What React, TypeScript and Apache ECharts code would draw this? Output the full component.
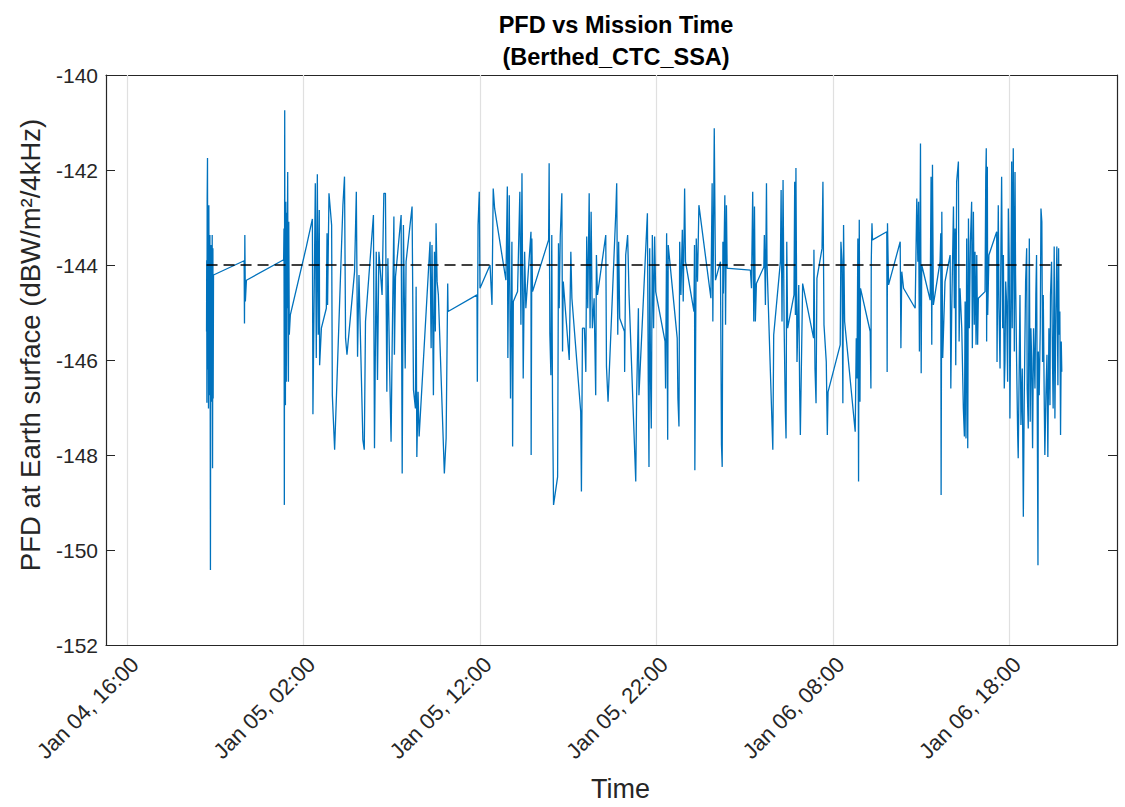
import React, { useEffect, useRef } from "react";
import * as echarts from "echarts";

// Time in hours since Jan 04 00:00, PFD in dBW/m^2/4kHz
const SEG1: [number, number][] = [[20.50,-145.40],[20.51,-143.90],[20.52,-146.90],[20.535,-142.60],[20.554,-141.75],[20.57,-146.20],[20.585,-143.10],[20.61,-147.02],[20.63,-142.74],[20.65,-145.80],[20.67,-146.74],[20.69,-143.37],[20.705,-146.30],[20.72,-150.42],[20.74,-144.60],[20.76,-143.58],[20.78,-146.10],[20.79,-143.80],[20.80,-146.88],[20.82,-143.37],[20.84,-148.28],[20.86,-143.65],[20.875,-146.81],[20.894,-144.21],[22.63,-143.91],[22.65,-145.23],[22.67,-143.37],[22.70,-144.77],[22.76,-144.32],[24.87,-143.89],[24.89,-143.23],[24.91,-149.05],[24.93,-140.74],[24.95,-145.90],[24.97,-146.95],[24.99,-142.67],[25.00,-143.50],[25.02,-146.46],[25.04,-142.90],[25.06,-144.91],[25.08,-143.30],[25.10,-142.04],[25.12,-145.70],[25.14,-146.46],[25.16,-143.09],[25.19,-145.47],[25.25,-145.05]];
const SEG2: [number, number][] = [[26.16,-143.61],[26.50,-143.03],[26.53,-147.14],[26.665,-142.28],[26.72,-145.96],[26.78,-142.09],[26.83,-145.47],[26.89,-142.84],[26.91,-146.11],[27.01,-145.33],[27.29,-144.91],[27.33,-143.33],[27.36,-144.84],[27.44,-142.49],[27.59,-143.16],[27.63,-146.74],[27.76,-147.89],[28.23,-142.74],[28.32,-142.14],[28.38,-145.54],[28.46,-145.89],[28.89,-144.14],[28.99,-142.46],[29.06,-145.93],[29.14,-144.21],[29.36,-147.68],[29.44,-147.89],[29.51,-145.19],[29.96,-142.95],[30.02,-147.86],[30.12,-143.72],[30.19,-146.42],[30.27,-143.72],[30.45,-144.63],[30.55,-142.49],[30.64,-142.49],[30.72,-146.67],[30.78,-143.86],[30.87,-146.04],[30.96,-147.72],[31.02,-145.75],[31.12,-142.98],[31.15,-145.89],[31.21,-144.25],[31.53,-142.95],[31.59,-148.39],[31.66,-143.16],[31.76,-146.18],[31.81,-143.93],[32.15,-142.77],[32.23,-146.63],[32.34,-147.02]];
const SEG3: [number, number][] = [[32.38,-144.46],[32.42,-148.04],[32.49,-146.67],[32.55,-147.61],[33.17,-143.51],[33.23,-145.75],[33.28,-143.58],[33.36,-146.74],[33.42,-143.72],[33.47,-145.40],[33.51,-143.12],[33.57,-144.35],[33.64,-144.63],[33.98,-148.39],[34.08,-147.65],[34.17,-144.39],[34.19,-144.98],[35.83,-144.63],[35.85,-146.46],[35.89,-143.16],[35.96,-142.46],[36.00,-144.49],[36.57,-144.00],[36.68,-144.84],[36.75,-142.39],[36.83,-142.81],[37.47,-144.32],[37.55,-142.35],[37.58,-145.96],[37.66,-142.53],[37.73,-146.81],[37.81,-143.51],[37.85,-147.82],[37.89,-144.77],[38.13,-144.56],[38.26,-142.46],[38.32,-145.26],[38.38,-142.07],[38.45,-146.39],[38.53,-143.72],[38.60,-144.91]];
const SEG4: [number, number][] = [[38.89,-143.30],[38.90,-148.00],[38.94,-143.44],[38.98,-144.56],[39.89,-143.47],[39.92,-141.86],[39.96,-145.44],[40.02,-146.32],[40.07,-143.37],[40.11,-146.81],[40.17,-149.05],[40.40,-148.46],[40.45,-143.54],[40.49,-144.91],[40.55,-143.40],[40.64,-142.49],[40.68,-145.82],[40.72,-144.35],[41.06,-146.00],[41.15,-143.72],[41.21,-144.70],[41.71,-147.09],[41.75,-148.77],[41.81,-145.33],[41.92,-145.33],[42.00,-146.25],[42.05,-143.40],[42.11,-144.91],[42.19,-142.49],[42.24,-145.33],[42.30,-142.88],[42.37,-145.33],[42.47,-144.70],[42.56,-146.74],[42.60,-143.79],[42.66,-144.63],[43.13,-143.37],[43.17,-146.14],[43.26,-146.88],[43.70,-142.88],[43.75,-142.28],[43.81,-145.47],[43.86,-143.51],[43.92,-145.12],[44.19,-145.40],[44.20,-146.25],[44.26,-143.79],[44.37,-143.37],[44.45,-144.63],[44.83,-148.56]];
const SEG5: [number, number][] = [[44.88,-146.74],[44.98,-144.91],[45.01,-146.74],[45.49,-142.91],[45.54,-146.46],[45.58,-148.25],[45.62,-143.65],[45.67,-146.46],[45.71,-147.44],[45.77,-143.37],[45.84,-145.33],[45.90,-143.40],[45.96,-144.56],[46.49,-145.61],[46.52,-146.60],[46.58,-143.33],[46.64,-147.68],[46.67,-143.58],[47.18,-145.54],[47.22,-146.81],[47.28,-147.40],[47.32,-143.51],[47.39,-144.63],[47.47,-143.26],[47.52,-144.77],[47.60,-142.39],[47.65,-143.93],[48.13,-144.98],[48.16,-143.58],[48.18,-148.32],[48.26,-143.44],[48.33,-144.35],[48.41,-142.74],[49.09,-144.70],[49.16,-142.28],[49.20,-145.19],[49.28,-141.12],[49.35,-144.32],[49.63,-143.93],[49.69,-147.79],[49.73,-148.25],[49.77,-143.51],[49.80,-144.60],[49.88,-142.53],[49.92,-145.26],[49.97,-142.74],[50.01,-144.07],[50.11,-144.07]];
const SEG6: [number, number][] = [[51.33,-144.11],[51.39,-144.49],[51.46,-142.46],[51.52,-145.19],[51.56,-142.77],[51.61,-145.19],[51.67,-144.39],[52.09,-144.04],[52.12,-143.37],[52.18,-144.84],[52.24,-142.28],[52.27,-143.96],[52.60,-147.89],[52.65,-145.47],[53.03,-143.93],[53.07,-142.42],[53.12,-145.19],[53.18,-142.21],[53.24,-145.26],[53.31,-147.09],[53.35,-147.65],[53.39,-143.51],[53.44,-145.33],[53.80,-144.63],[53.84,-142.25],[53.88,-145.05],[53.91,-141.96],[53.97,-146.04],[54.07,-144.42],[54.12,-146.60],[54.16,-147.58],[54.29,-144.39],[54.91,-145.54],[54.93,-143.68],[54.99,-146.18],[55.05,-146.91],[55.10,-144.28],[55.39,-143.65],[55.44,-142.25],[55.50,-145.26],[55.63,-146.04],[55.69,-147.58],[55.73,-146.67],[56.42,-145.68],[56.46,-143.51],[56.52,-143.93],[56.57,-146.91],[56.61,-143.16],[56.67,-145.19],[57.27,-147.51]];
const SEG7: [number, number][] = [[57.33,-145.54],[57.37,-146.39],[57.42,-143.44],[57.46,-148.56],[57.50,-143.05],[57.54,-146.88],[57.57,-144.49],[58.12,-145.40],[58.16,-146.60],[58.18,-143.93],[58.22,-143.12],[58.25,-143.47],[59.06,-143.30],[59.08,-146.25],[59.10,-143.12],[59.16,-144.42],[59.82,-143.51],[59.86,-145.75],[59.91,-144.14],[60.01,-144.49],[60.67,-144.91],[60.76,-142.60],[60.82,-143.93],[60.86,-142.67],[60.91,-145.82],[60.97,-141.44],[61.01,-146.28],[61.04,-144.00],[61.52,-144.74],[61.57,-142.14],[61.61,-145.68],[61.65,-141.89],[61.70,-144.84],[62.08,-143.93],[62.12,-143.33],[62.14,-148.84],[62.18,-142.88],[62.23,-145.96],[62.36,-144.35],[62.65,-143.79],[62.69,-146.60],[62.74,-144.98],[62.84,-142.77],[62.89,-144.91],[62.93,-143.23],[62.97,-146.11],[63.02,-142.25],[63.12,-141.82],[63.16,-145.61],[63.21,-144.49],[63.31,-145.33],[63.40,-147.02],[63.46,-147.61],[63.50,-144.77]];
const SEG8: [number, number][] = [[63.55,-147.65],[63.59,-143.44],[63.65,-147.86],[63.69,-143.02],[63.74,-145.33],[63.80,-143.51],[63.87,-142.67],[63.91,-145.75],[63.97,-142.88],[64.02,-145.26],[64.06,-143.72],[64.12,-145.68],[64.16,-143.79],[64.21,-145.68],[64.25,-144.70],[64.63,-144.56],[64.67,-142.14],[64.70,-141.54],[64.72,-145.61],[64.76,-141.93],[64.78,-145.05],[64.85,-143.79],[65.29,-143.30],[65.31,-146.04],[65.38,-142.74],[65.42,-144.91],[65.48,-146.18],[65.53,-143.65],[65.57,-142.14],[65.63,-145.33],[65.67,-143.79],[65.72,-146.60],[65.76,-146.04],[65.80,-144.35],[65.85,-144.77],[65.91,-146.46],[65.95,-142.81],[66.00,-143.93],[66.04,-147.23],[66.10,-144.35],[66.14,-141.82],[66.17,-145.33],[66.23,-141.54],[66.29,-145.82],[66.33,-142.04],[66.36,-144.21],[66.42,-146.04],[66.48,-147.58],[66.51,-148.07],[66.57,-146.04],[66.61,-144.63],[66.665,-147.37],[66.74,-146.18],[66.80,-149.30],[66.85,-146.88],[66.93,-144.35],[66.99,-143.65],[67.02,-146.60],[67.08,-147.44],[67.14,-143.44],[67.19,-147.30],[67.23,-145.33],[67.27,-145.96],[67.325,-147.86],[67.38,-145.33],[67.46,-146.60],[67.51,-144.63],[67.55,-143.79],[67.59,-147.09],[67.63,-150.32],[67.65,-145.82],[67.70,-146.74],[67.76,-145.33],[67.80,-142.81],[67.85,-143.09],[67.89,-146.04],[67.93,-144.63],[67.99,-147.02],[68.02,-148.00],[68.08,-146.74],[68.14,-145.89],[68.19,-148.04],[68.25,-145.33],[68.31,-146.95],[68.34,-144.63],[68.40,-143.93],[68.46,-146.18],[68.49,-147.02],[68.55,-143.61],[68.59,-147.23],[68.645,-145.05],[68.70,-143.61],[68.76,-146.53],[68.80,-143.65],[68.83,-145.47],[68.87,-144.98],[68.91,-147.58],[68.95,-145.61],[68.98,-146.25]];

const THRESHOLD = -144;
const X_TICKS = [16, 26, 36, 46, 56, 66];
const X_MIN = 14.8;
const X_MAX = 72.11;
const Y_MIN = -152;
const Y_MAX = -140;
const Y_STEP = 2;

const FONT = "'Liberation Sans', Arial, Helvetica, sans-serif";
const AX = "#262626";

function fmtTime(h: number): string {
  const dayIdx = Math.floor((h + 1e-6) / 24);
  const hh = Math.round(h - dayIdx * 24);
  const day = 4 + dayIdx;
  return `Jan ${String(day).padStart(2, "0")}, ${String(hh).padStart(2, "0")}:00`;
}

export default function App() {
  const ref = useRef<HTMLDivElement>(null);
  useEffect(() => {
    if (!ref.current) return;
    const chart = echarts.init(ref.current, undefined, { renderer: "svg" });
    const data = [...SEG1, ...SEG2, ...SEG3, ...SEG4, ...SEG5, ...SEG6, ...SEG7, ...SEG8];
    const tStart = data[0][0];
    const tEnd = data[data.length - 1][0];
    const axisLine = { show: true, onZero: false, lineStyle: { color: AX, width: 1.2 } };
    const tick = { show: true, inside: true, length: 9, lineStyle: { color: AX, width: 1 } };
    chart.setOption({
      animation: false,
      backgroundColor: "#ffffff",
      textStyle: { fontFamily: FONT },
      title: {
        text: "PFD vs Mission Time\n(Berthed_CTC_SSA)",
        left: 611,
        top: 4,
        textAlign: "center",
        textStyle: { fontSize: 23.5, fontWeight: "bold", color: "#000", lineHeight: 32, fontFamily: FONT },
      },
      grid: { left: 106, right: 8, top: 75, bottom: 162, containLabel: false },
      xAxis: [
        {
          type: "value",
          min: X_MIN,
          max: X_MAX,
          position: "bottom",
          axisLine,
          axisTick: { ...tick, customValues: X_TICKS },
          axisLabel: {
            customValues: X_TICKS,
            rotate: 45,
            align: "right",
            verticalAlign: "top",
            formatter: (v: number) => fmtTime(v),
            fontSize: 22,
            color: AX,
            fontFamily: FONT,
            margin: 8,
          },
          splitLine: { show: false },
          name: "Time",
          nameLocation: "middle",
          nameGap: 130,
          nameTextStyle: { fontSize: 27, color: AX, fontFamily: FONT, padding: [0, 0, 0, 18] },
        },
        {
          type: "value",
          min: X_MIN,
          max: X_MAX,
          position: "top",
          axisLine,
          axisTick: { ...tick, customValues: X_TICKS },
          axisLabel: { show: false },
          splitLine: { show: false },
        },
      ],
      yAxis: [
        {
          type: "value",
          min: Y_MIN,
          max: Y_MAX,
          interval: Y_STEP,
          position: "left",
          axisLine,
          axisTick: tick,
          axisLabel: { fontSize: 21, color: AX, fontFamily: FONT, margin: 8 },
          splitLine: { show: false },
          name: "PFD at Earth surface (dBW/m²/4kHz)",
          nameLocation: "middle",
          nameGap: 62,
          nameRotate: 90,
          nameTextStyle: { fontSize: 27.5, color: AX, fontFamily: FONT, padding: [0, 0, 0, 30] },
        },
        {
          type: "value",
          min: Y_MIN,
          max: Y_MAX,
          interval: Y_STEP,
          position: "right",
          axisLine,
          axisTick: tick,
          axisLabel: { show: false },
          splitLine: { show: false },
        },
      ],
      series: [
        {
          name: "grid",
          type: "line",
          data: [],
          z: 1,
          silent: true,
          markLine: {
            z: 1,
            silent: true,
            symbol: "none",
            label: { show: false },
            lineStyle: { color: "#e0e0e0", width: 1.2, type: "solid" },
            data: X_TICKS.map((x) => ({ xAxis: x })),
          },
        },
        {
          name: "PFD",
          type: "line",
          data,
          showSymbol: false,
          symbol: "none",
          z: 2,
          lineStyle: { color: "#0072BD", width: 1.3 },
          itemStyle: { color: "#0072BD" },
        },
        {
          name: "Threshold",
          type: "line",
          data: [[tStart, THRESHOLD], [tEnd, THRESHOLD]],
          showSymbol: false,
          symbol: "none",
          z: 3,
          lineStyle: { color: "#000", width: 1.6, type: [11, 6] },
        },
      ],
    });
    return () => chart.dispose();
  }, []);
  return (
    <div
      ref={ref}
      style={{ position: "fixed", left: 0, top: 0, width: 1125, height: 807, background: "#fff" }}
    />
  );
}
